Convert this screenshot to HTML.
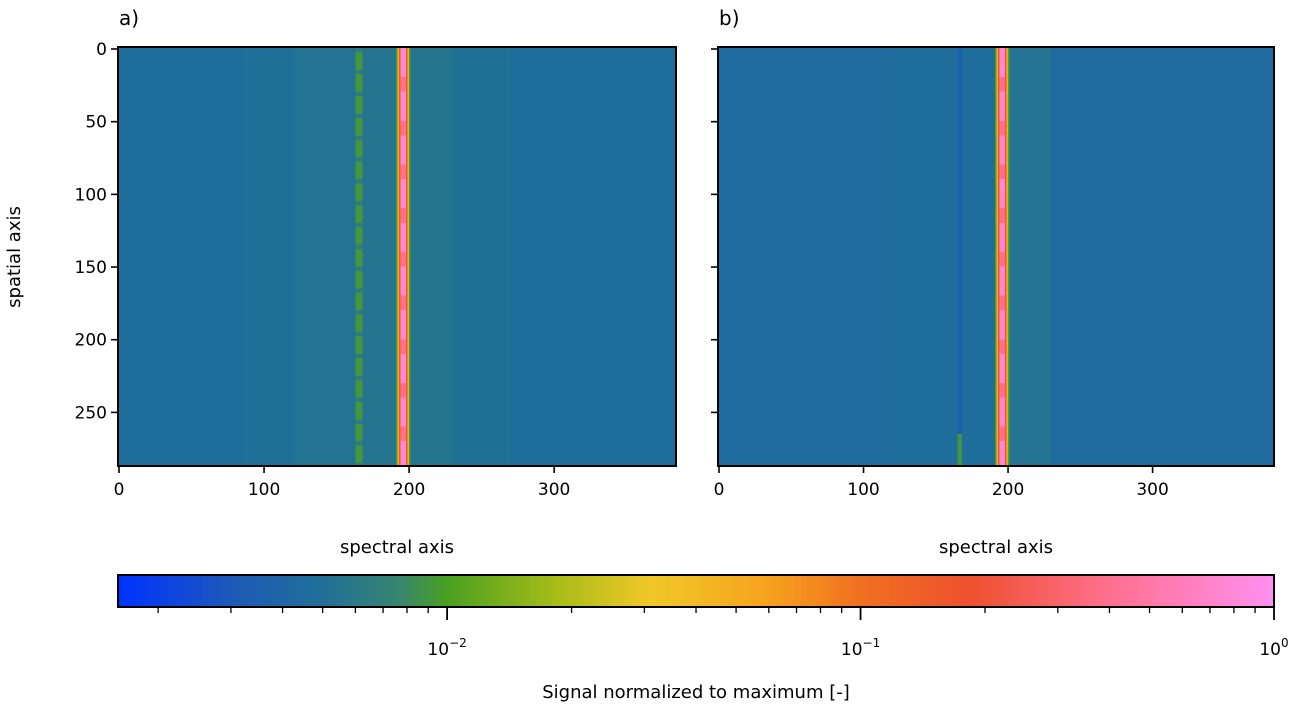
<!DOCTYPE html>
<html><head><meta charset="utf-8">
<style>
body{margin:0;background:#fff;width:1296px;height:705px;overflow:hidden;font-family:"Liberation Sans","DejaVu Sans",sans-serif;}
#wrap{position:relative;width:1296px;height:705px;}
canvas.img{position:absolute;image-rendering:pixelated;}
svg{position:absolute;left:0;top:0;}
text{font-family:"DejaVu Sans","Liberation Sans",sans-serif;font-size:17px;fill:#000;}
</style></head>
<body>
<div id="wrap">
<canvas id="ca" class="img" width="384" height="287" style="left:119px;top:48px;width:557px;height:418px"></canvas>
<canvas id="cb" class="img" width="384" height="287" style="left:719px;top:48px;width:555px;height:418px"></canvas>
<canvas id="cbar" class="img" width="600" height="1" style="left:118px;top:576px;width:1156px;height:31px"></canvas>
<svg id="ov" width="1296" height="705"></svg>
</div>
<script>
// colormap stops (position 0..1, color)
const cmapPos=[0,0.1,0.17,0.24,0.285,0.38,0.46,0.56,0.642,0.74,0.86,1];
const cmapCol=["#0033ff","#1e5ab8","#1f6e9a","#368474","#4aa020","#a8bc18","#f0c828","#f6a41e","#f07020","#ee5030","#ff7090","#ff90f0"];
const logMin=-2.796, logMax=0;
// column profiles: band start, band end (spectral px), log10 value
const aStarts=[0,85,120,163,168,191,192,193,194,198,199,200,201,230,270];
const aEnds  =[85,120,163,168,191,192,193,194,198,199,200,201,230,270,384];
const aVals  =[-2.33,-2.31,-2.28,-2.04,-2.27,-2.0,-1.3,-0.8,-0.1,-0.8,-1.3,-2.0,-2.26,-2.3,-2.33];
const bStarts=[0,120,165,168,191,192,193,194,198,199,200,201,230];
const bEnds  =[120,165,168,191,192,193,194,198,199,200,201,230,384];
const bVals  =[-2.35,-2.33,-2.5,-2.33,-2.0,-1.3,-0.8,-0.1,-0.8,-1.3,-2.0,-2.28,-2.35];
const bGreenRows=[265,287]; // rows where line at 165 is green in b
function hex(c){return [parseInt(c.substr(1,2),16),parseInt(c.substr(3,2),16),parseInt(c.substr(5,2),16)];}
function cmap(p){p=Math.max(0,Math.min(1,p));for(let i=1;i<cmapPos.length;i++){if(p<=cmapPos[i]){const t=(p-cmapPos[i-1])/(cmapPos[i]-cmapPos[i-1]);const a=hex(cmapCol[i-1]),b=hex(cmapCol[i]);return a.map((v,k)=>Math.round(v+(b[k]-v)*t));}}return hex(cmapCol[cmapCol.length-1]);}
function lp(v){return (v-logMin)/(logMax-logMin);}
function draw(id,S,E,V,isB){const c=document.getElementById(id).getContext('2d');const im=c.createImageData(384,287);
for(let y=0;y<287;y++)for(let x=0;x<384;x++){let v=-2.33;for(let i=0;i<S.length;i++)if(x>=S[i]&&x<E[i]){v=V[i];break;}
 if(x>=194&&x<198&&(Math.floor(y/10)%3==2))v=-0.4;
 if(!isB&&x>=163&&x<168&&(y%15<3))v=-2.2;
 if(isB&&x>=165&&x<168&&y>=bGreenRows[0]&&y<bGreenRows[1])v=-2.05;
 const col=cmap(lp(v));const o=(y*384+x)*4;im.data[o]=col[0];im.data[o+1]=col[1];im.data[o+2]=col[2];im.data[o+3]=255;}
c.putImageData(im,0,0);}
draw('ca',aStarts,aEnds,aVals,false);draw('cb',bStarts,bEnds,bVals,true);
(function(){const c=document.getElementById('cbar').getContext('2d');const im=c.createImageData(600,1);for(let x=0;x<600;x++){const col=cmap(x/599);im.data[x*4]=col[0];im.data[x*4+1]=col[1];im.data[x*4+2]=col[2];im.data[x*4+3]=255;}c.putImageData(im,0,0);})();

const xTicks=[0,100,200,300];
const yTicks=[0,50,100,150,200,250];
const ov=document.getElementById('ov');const NS='http://www.w3.org/2000/svg';
function el(t,a,txt){const e=document.createElementNS(NS,t);for(const k in a)e.setAttribute(k,a[k]);if(txt!==undefined)e.textContent=txt;ov.appendChild(e);return e;}
function panel(x0,x1,lbl,showY,nm){
 const fx=v=>x0+1+v*(x1-x0-1)/384, fy=v=>49+v*1.4536;
 const r=el('rect',{x:x0,y:47,width:x1-x0,height:419,fill:'none',stroke:'#000','stroke-width':2});
 
 xTicks.forEach(t=>{const X=fx(t);el('line',{x1:X,y1:466,x2:X,y2:473,stroke:'#000','stroke-width':1.6});
  const tx=el('text',{x:X,y:495,'text-anchor':'middle'},String(t));});
 yTicks.forEach(t=>{const Y=fy(t);el('line',{x1:x0-7,y1:Y,x2:x0,y2:Y,stroke:'#000','stroke-width':1.6});
  if(showY){const tx=el('text',{x:x0-11,y:Y+6,'text-anchor':'end'},String(t));}});
 const xt=el('text',{x:(x0+x1)/2,y:553,'text-anchor':'middle',style:'font-size:18px'},'spectral axis');
 const pl=el('text',{x:x0+1,y:25,style:'font-size:20px'},lbl);
}
panel(118,676,'a)',true,'panel-a');panel(718,1274,'b)',false,'panel-b');
const yt=el('text',{x:20,y:257,'text-anchor':'middle',transform:'rotate(-90 20 257)',style:'font-size:18px'},'spatial axis');

// colorbar axis
const cbF=l=>118+(l-logMin)/(logMax-logMin)*1156;
const cbr=el('rect',{x:118,y:575,width:1156,height:32,fill:'none',stroke:'#000','stroke-width':2});

for(let d=-3;d<=0;d++)for(let m=1;m<10;m++){const l=d+Math.log10(m);if(l<logMin||l>0)continue;const X=cbF(l);
 el('line',{x1:X,y1:607,x2:X,y2:m==1?620:613,stroke:'#000','stroke-width':m==1?1.8:1.3});}
const decs=[-2,-1,0];
decs.forEach(d=>{const X=cbF(d);const t=el('text',{x:X,y:655,'text-anchor':'middle'});
 const a=document.createElementNS(NS,'tspan');a.textContent='10';t.appendChild(a);const b=document.createElementNS(NS,'tspan');b.setAttribute('dy','-8');b.setAttribute('style','font-size:12px');b.textContent=d==0?'0':'\u2212'+(-d);t.appendChild(b);});
const cl=el('text',{x:696,y:698,'text-anchor':'middle',style:'font-size:18px'},'Signal normalized to maximum [-]');

</script>
</body></html>
